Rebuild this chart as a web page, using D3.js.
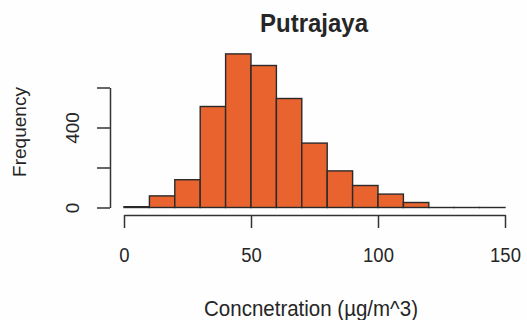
<!DOCTYPE html>
<html>
<head>
<meta charset="utf-8">
<script src="https://cdn.jsdelivr.net/npm/d3@7"></script>
<style>
  html, body { margin: 0; padding: 0; background: #fefefe; }
  svg { display: block; }
  text { font-family: "Liberation Sans", Arial, sans-serif; fill: #262626; }
</style>
</head>
<body>
<svg id="chart" width="527" height="320"></svg>
<script>
const binStarts = [0, 10, 20, 30, 40, 50, 60, 70, 80, 90, 100, 110, 120, 130, 140];
const counts    = [4, 58, 139, 505, 768, 710, 545, 322, 183, 110, 67, 25, 0, 0, 0];
const binWidth = 10;
const xTicks = [0, 50, 100, 150];
const xTickLabels = ["0", "50", "100", "150"];
const yTicks = [0, 200, 400, 600];
const yTickLabels = ["0", "", "400", ""];
const title = "Putrajaya";
const xLabel = "Concnetration (µg/m^3)";
const yLabel = "Frequency";

const svg = d3.select("#chart");
const x = d3.scaleLinear().domain([0, 150]).range([124, 505]);
const y = d3.scaleLinear().domain([0, 600]).range([207.5, 87.5]);
const axisColor = "#333";

// bars (zero-count bins still draw as a flat outline, as in R)
svg.append("g").selectAll("rect")
  .data(binStarts.map((s, i) => ({ s, c: counts[i] })))
  .join("rect")
  .attr("x", d => x(d.s))
  .attr("width", d => x(d.s + binWidth) - x(d.s))
  .attr("y", d => y(d.c))
  .attr("height", d => Math.max(0.01, y(0) - y(d.c)))
  .attr("fill", "#e8632d")
  .attr("stroke", "#2a2a2a")
  .attr("stroke-width", 1.4);

// x axis
const xAxis = svg.append("g")
  .attr("transform", "translate(0,215)")
  .call(d3.axisBottom(x).tickValues(xTicks).tickSize(13).tickSizeOuter(0)
    .tickFormat((d, i) => xTickLabels[i]));
xAxis.select(".domain").attr("stroke", axisColor).attr("stroke-width", 1.5);
xAxis.selectAll(".tick line").attr("stroke", axisColor).attr("stroke-width", 1.5);
xAxis.selectAll(".tick text")
  .attr("y", 0).attr("dy", 0)
  .attr("transform", "translate(0,262) scale(1,1.12)")
  .style("font-size", "18.5px")
  .attr("fill", "#262626");
xAxis.selectAll(".tick text").attr("transform", "translate(0,47) scale(1,1.12)");

// y axis
const yAxis = svg.append("g")
  .attr("transform", "translate(110,0)")
  .call(d3.axisLeft(y).tickValues(yTicks).tickSize(13).tickSizeOuter(0)
    .tickFormat((d, i) => yTickLabels[i]));
yAxis.select(".domain").attr("stroke", axisColor).attr("stroke-width", 1.5);
yAxis.selectAll(".tick line").attr("stroke", axisColor).attr("stroke-width", 1.5);
yAxis.selectAll(".tick text")
  .attr("x", 0).attr("dy", 0)
  .attr("transform", "translate(-31,0) rotate(-90)")
  .attr("text-anchor", "middle")
  .style("font-size", "19px")
  .attr("fill", "#262626");

// title
svg.append("text")
  .attr("transform", "translate(314,32) scale(1,1.05)")
  .attr("text-anchor", "middle")
  .style("font-size", "24px").style("font-weight", "bold")
  .text(title);

// x label
svg.append("text")
  .attr("transform", "translate(311,316) scale(1,1.08)")
  .attr("text-anchor", "middle")
  .style("font-size", "20.5px")
  .text(xLabel);

// y label
svg.append("text")
  .attr("transform", "translate(26,132) rotate(-90)")
  .attr("text-anchor", "middle")
  .style("font-size", "19px")
  .text(yLabel);
</script>
</body>
</html>
